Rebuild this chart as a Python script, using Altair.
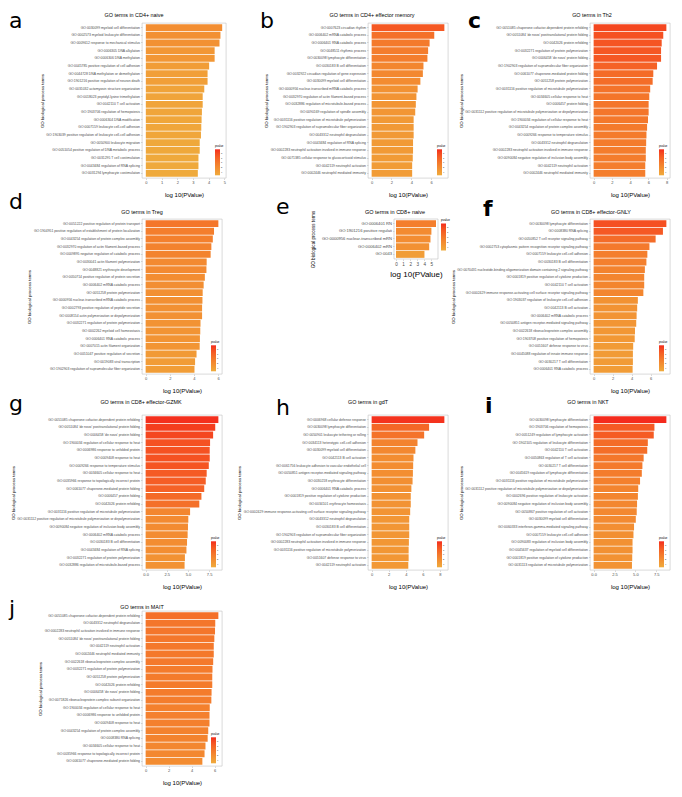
import altair as alt
import pandas as pd

# ---------------- data ----------------
a_terms = [
    "GO:0030099 myeloid cell differentiation",
    "GO:0002573 myeloid leukocyte differentiation",
    "GO:0009612 response to mechanical stimulus",
    "GO:0006305 DNA alkylation",
    "GO:0006306 DNA methylation",
    "GO:0045785 positive regulation of cell adhesion",
    "GO:0044728 DNA methylation or demethylation",
    "GO:1901216 positive regulation of neuron death",
    "GO:0031032 actomyosin structure organization",
    "GO:0018023 peptidyl-lysine trimethylation",
    "GO:0042110 T cell activation",
    "GO:1903706 regulation of hemopoiesis",
    "GO:0006304 DNA modification",
    "GO:0007159 leukocyte cell-cell adhesion",
    "GO:1903039 positive regulation of leukocyte cell-cell adhesion",
    "GO:0050900 leukocyte migration",
    "GO:0051054 positive regulation of DNA metabolic process",
    "GO:0031295 T cell costimulation",
    "GO:0043484 regulation of RNA splicing",
    "GO:0031294 lymphocyte costimulation",
]
a_vals = [4.86, 4.75, 4.69, 4.38, 4.38, 4.03, 3.93, 3.93, 3.72, 3.62,
          3.62, 3.57, 3.55, 3.53, 3.51, 3.43, 3.43, 3.35, 3.35, 3.31]

b_terms = [
    "GO:0007623 circadian rhythm",
    "GO:0006402 mRNA catabolic process",
    "GO:0006401 RNA catabolic process",
    "GO:0048511 rhythmic process",
    "GO:0030098 lymphocyte differentiation",
    "GO:0030183 B cell differentiation",
    "GO:0032922 circadian regulation of gene expression",
    "GO:0030099 myeloid cell differentiation",
    "GO:0000956 nuclear-transcribed mRNA catabolic process",
    "GO:0032970 regulation of actin filament-based process",
    "GO:0032886 regulation of microtubule-based process",
    "GO:0090169 regulation of spindle assembly",
    "GO:0031116 positive regulation of microtubule polymerization",
    "GO:1902903 regulation of supramolecular fiber organization",
    "GO:0043312 neutrophil degranulation",
    "GO:0043484 regulation of RNA splicing",
    "GO:0002283 neutrophil activation involved in immune response",
    "GO:0071385 cellular response to glucocorticoid stimulus",
    "GO:0042119 neutrophil activation",
    "GO:0002446 neutrophil mediated immunity",
]
b_vals = [7.34, 6.32, 5.85, 5.70, 5.63, 5.23, 5.17, 4.92, 4.64, 4.52,
          4.46, 4.40, 4.24, 4.24, 4.24, 4.18, 4.18, 4.15, 4.09, 4.09]

c_terms = [
    "GO:0051085 chaperone cofactor-dependent protein refolding",
    "GO:0051084 'de novo' posttranslational protein folding",
    "GO:0042026 protein refolding",
    "GO:0032271 regulation of protein polymerization",
    "GO:0006458 'de novo' protein folding",
    "GO:1902903 regulation of supramolecular fiber organization",
    "GO:0061077 chaperone-mediated protein folding",
    "GO:0051258 protein polymerization",
    "GO:0031116 positive regulation of microtubule polymerization",
    "GO:0034605 cellular response to heat",
    "GO:0006457 protein folding",
    "GO:0031112 positive regulation of microtubule polymerization or depolymerization",
    "GO:1900034 regulation of cellular response to heat",
    "GO:0043254 regulation of protein complex assembly",
    "GO:0009266 response to temperature stimulus",
    "GO:0043312 neutrophil degranulation",
    "GO:0002283 neutrophil activation involved in immune response",
    "GO:0090084 negative regulation of inclusion body assembly",
    "GO:0042119 neutrophil activation",
    "GO:0002446 neutrophil mediated immunity",
]
c_vals = [7.96, 7.62, 7.45, 7.38, 7.38, 6.94, 6.53, 6.46, 6.19, 6.09,
          6.02, 6.02, 5.95, 5.85, 5.78, 5.75, 5.71, 5.71, 5.65, 5.65]

d_terms = [
    "GO:0051222 positive regulation of protein transport",
    "GO:1904951 positive regulation of establishment of protein localization",
    "GO:0043254 regulation of protein complex assembly",
    "GO:0032970 regulation of actin filament-based process",
    "GO:0009895 negative regulation of catabolic process",
    "GO:0030041 actin filament polymerization",
    "GO:0048821 erythrocyte development",
    "GO:0050714 positive regulation of protein secretion",
    "GO:0006402 mRNA catabolic process",
    "GO:0051258 protein polymerization",
    "GO:0000956 nuclear-transcribed mRNA catabolic process",
    "GO:0002793 positive regulation of peptide secretion",
    "GO:0008154 actin polymerization or depolymerization",
    "GO:0032271 regulation of protein polymerization",
    "GO:0002262 myeloid cell homeostasis",
    "GO:0006401 RNA catabolic process",
    "GO:0007015 actin filament organization",
    "GO:0051047 positive regulation of secretion",
    "GO:0019083 viral transcription",
    "GO:1902903 regulation of supramolecular fiber organization",
]
d_vals = [6.03, 5.67, 5.57, 5.45, 5.39, 5.06, 5.04, 4.91, 4.81, 4.73,
          4.71, 4.68, 4.68, 4.55, 4.53, 4.50, 4.48, 4.22, 4.10, 4.05]

e_terms = [
    "GO:0006401 RN",
    "GO:1901216 positive regulati",
    "GO:0000956 nuclear-transcribed mRN",
    "GO:0006402 mRN",
    "GO:0043",
]
e_vals = [5.65, 5.00, 4.87, 4.69, 4.02]

f_terms = [
    "GO:0030098 lymphocyte differentiation",
    "GO:0008380 RNA splicing",
    "GO:0050852 T cell receptor signaling pathway",
    "GO:0002753 cytoplasmic pattern recognition receptor signaling pathway",
    "GO:0007159 leukocyte cell-cell adhesion",
    "GO:0030183 B cell differentiation",
    "GO:0070431 nucleotide-binding oligomerization domain containing 2 signaling pathway",
    "GO:0001819 positive regulation of cytokine production",
    "GO:0042110 T cell activation",
    "GO:0002429 immune response-activating cell surface receptor signaling pathway",
    "GO:1903037 regulation of leukocyte cell-cell adhesion",
    "GO:0042113 B cell activation",
    "GO:0006402 mRNA catabolic process",
    "GO:0050851 antigen receptor-mediated signaling pathway",
    "GO:0022618 ribonucleoprotein complex assembly",
    "GO:1903708 positive regulation of hemopoiesis",
    "GO:0051607 defense response to virus",
    "GO:0045088 regulation of innate immune response",
    "GO:0030217 T cell differentiation",
    "GO:0006401 RNA catabolic process",
]
f_vals = [7.65, 7.29, 6.52, 5.87, 5.65, 5.55, 5.39, 5.32, 5.32, 5.23,
          4.65, 4.58, 4.52, 4.48, 4.35, 4.32, 4.16, 4.13, 4.13, 4.10]

g_terms = [
    "GO:0051085 chaperone cofactor-dependent protein refolding",
    "GO:0051084 'de novo' posttranslational protein folding",
    "GO:0006458 'de novo' protein folding",
    "GO:1900034 regulation of cellular response to heat",
    "GO:0006986 response to unfolded protein",
    "GO:0009408 response to heat",
    "GO:0009266 response to temperature stimulus",
    "GO:0034605 cellular response to heat",
    "GO:0035966 response to topologically incorrect protein",
    "GO:0061077 chaperone-mediated protein folding",
    "GO:0006457 protein folding",
    "GO:0042026 protein refolding",
    "GO:0031116 positive regulation of microtubule polymerization",
    "GO:0031112 positive regulation of microtubule polymerization or depolymerization",
    "GO:0090084 negative regulation of inclusion body assembly",
    "GO:0006402 mRNA catabolic process",
    "GO:0030183 B cell differentiation",
    "GO:0043484 regulation of RNA splicing",
    "GO:0032271 regulation of protein polymerization",
    "GO:0032886 regulation of microtubule-based process",
]
g_vals = [8.59, 8.22, 7.97, 7.61, 7.57, 7.57, 7.46, 7.21, 7.10, 6.92,
          6.59, 6.34, 5.25, 5.04, 5.00, 4.96, 4.89, 4.82, 4.64, 4.60]

h_terms = [
    "GO:0006968 cellular defense response",
    "GO:0030098 lymphocyte differentiation",
    "GO:0050901 leukocyte tethering or rolling",
    "GO:0034113 heterotypic cell-cell adhesion",
    "GO:0030099 myeloid cell differentiation",
    "GO:0042113 B cell activation",
    "GO:0061756 leukocyte adhesion to vascular endothelial cell",
    "GO:0050851 antigen receptor-mediated signaling pathway",
    "GO:0030218 erythrocyte differentiation",
    "GO:0006401 RNA catabolic process",
    "GO:0001819 positive regulation of cytokine production",
    "GO:0034101 erythrocyte homeostasis",
    "GO:0002429 immune response-activating cell surface receptor signaling pathway",
    "GO:0043312 neutrophil degranulation",
    "GO:0030183 B cell differentiation",
    "GO:1902903 regulation of supramolecular fiber organization",
    "GO:0002283 neutrophil activation involved in immune response",
    "GO:0031116 positive regulation of microtubule polymerization",
    "GO:0051607 defense response to virus",
    "GO:0042119 neutrophil activation",
]
h_vals = [8.53, 6.74, 6.16, 5.38, 5.13, 4.91, 4.87, 4.84, 4.80, 4.66,
          4.59, 4.59, 4.52, 4.41, 4.41, 4.41, 4.37, 4.34, 4.34, 4.30]

i_terms = [
    "GO:0030098 lymphocyte differentiation",
    "GO:1903706 regulation of hemopoiesis",
    "GO:0051249 regulation of lymphocyte activation",
    "GO:1902105 regulation of leukocyte differentiation",
    "GO:0042110 T cell activation",
    "GO:0050863 regulation of T cell activation",
    "GO:0030217 T cell differentiation",
    "GO:0045619 regulation of lymphocyte differentiation",
    "GO:0031116 positive regulation of microtubule polymerization",
    "GO:0031112 positive regulation of microtubule polymerization or depolymerization",
    "GO:0002696 positive regulation of leukocyte activation",
    "GO:0090084 negative regulation of inclusion body assembly",
    "GO:0050867 positive regulation of cell activation",
    "GO:0030099 myeloid cell differentiation",
    "GO:0060333 interferon-gamma-mediated signaling pathway",
    "GO:0007159 leukocyte cell-cell adhesion",
    "GO:0090083 regulation of inclusion body assembly",
    "GO:0045637 regulation of myeloid cell differentiation",
    "GO:0001819 positive regulation of cytokine production",
    "GO:0031113 regulation of microtubule polymerization",
]
i_vals = [8.71, 7.28, 7.20, 6.49, 6.42, 5.99, 5.84, 5.77, 5.56, 5.34,
          5.30, 5.20, 5.16, 5.05, 4.84, 4.77, 4.66, 4.66, 4.62, 4.59]

j_terms = [
    "GO:0051085 chaperone cofactor-dependent protein refolding",
    "GO:0043312 neutrophil degranulation",
    "GO:0002283 neutrophil activation involved in immune response",
    "GO:0051084 'de novo' posttranslational protein folding",
    "GO:0042119 neutrophil activation",
    "GO:0002446 neutrophil mediated immunity",
    "GO:0022618 ribonucleoprotein complex assembly",
    "GO:0032271 regulation of protein polymerization",
    "GO:0051258 protein polymerization",
    "GO:0042026 protein refolding",
    "GO:0006458 'de novo' protein folding",
    "GO:0071826 ribonucleoprotein complex subunit organization",
    "GO:1900034 regulation of cellular response to heat",
    "GO:0006986 response to unfolded protein",
    "GO:0009408 response to heat",
    "GO:0043254 regulation of protein complex assembly",
    "GO:0008380 RNA splicing",
    "GO:0034605 cellular response to heat",
    "GO:0035966 response to topologically incorrect protein",
    "GO:0061077 chaperone-mediated protein folding",
]
j_vals = [6.32, 6.05, 6.03, 5.97, 5.92, 5.92, 5.87, 5.81, 5.79, 5.79,
          5.73, 5.71, 5.57, 5.55, 5.55, 5.44, 5.39, 5.20, 5.12, 4.93]

panel_letters = ["a", "b", "c", "d", "e", "f", "g", "h", "i", "j"]
panel_titles = [
    "GO terms in CD4+ naive", "GO terms in CD4+ effector memory", "GO terms in Th2",
    "GO terms in Treg", "GO terms in CD8+ naive", "GO terms in CD8+ effector-GNLY",
    "GO terms in CD8+ effector-GZMK", "GO terms in gdT", "GO terms in NKT",
    "GO terms in MAIT",
]
x_ticks = [[0, 1, 2, 3, 4, 5], [0, 2, 4, 6], [0, 2, 4, 6, 8],
           [0, 2, 4, 6], [0, 1, 2, 3, 4, 5], [0, 2, 4, 6],
           [0, 2.5, 5, 7.5], [0, 2, 4, 6, 8], [0, 2.5, 5, 7.5],
           [0, 2, 4, 6]]
all_terms = [a_terms, b_terms, c_terms, d_terms, e_terms, f_terms, g_terms, h_terms, i_terms, j_terms]
all_vals = [a_vals, b_vals, c_vals, d_vals, e_vals, f_vals, g_vals, h_vals, i_vals, j_vals]

# ---------------- styling / layout ----------------
FONT = "Liberation Sans"
LOW, HIGH = "#EFAA3C", "#F42B1D"
H = 155
LETTER_FS = 22
# per panel: width, title x, title baseline y, letter x, letter baseline y, bold letter, tick format
layout = [
    dict(w=84, tx=-8, ty=-6, lx=-133, ly=5, bold=False, fmt="d"),
    dict(w=80, tx=4, ty=-6, lx=-108, ly=5, bold=False, fmt="d"),
    dict(w=80, tx=2, ty=-6, lx=-122, ly=5, bold=True, fmt="d"),
    dict(w=80, tx=0, ty=-5, lx=-133, ly=-10, bold=False, fmt="d"),
    dict(w=70, tx=27, ty=-5, lx=-92, ly=-5, bold=False, fmt="d", small=True),
    dict(w=80, tx=1, ty=-5, lx=-107, ly=-3, bold=True, fmt="d"),
    dict(w=80, tx=-1, ty=-11, lx=-133, ly=-4, bold=False, fmt=".1f"),
    dict(w=80, tx=0, ty=-11, lx=-92, ly=0, bold=False, fmt="d"),
    dict(w=80, tx=-2, ty=-11, lx=-105, ly=-2, bold=True, fmt=".1f"),
    dict(w=80, tx=0, ty=-2, lx=-133, ly=5, bold=False, fmt="d"),
]


def make_panel(k):
    terms, vals, L = all_terms[k], all_vals[k], layout[k]
    small = L.get("small", False)
    df = pd.DataFrame({"term": terms, "logp": vals})
    vmax, vmin = max(vals), min(vals)
    if small:
        xscale = alt.Scale(domain=[-0.05 * vmax, 1.05 * vmax], nice=False, zero=False, range=[26, 70])
        lab_fs, tick_fs, xt_fs, yt_fs, t_fs = 4.1, 4.6, 8, 4.6, 5.5
        yoff, ytp, xtp = -26, 6, 4
        height = 40
        leg = alt.Legend(title="pvalue", orient="right", direction="vertical", offset=3,
                         padding=0, gradientLength=27, gradientThickness=5,
                         gradientStrokeWidth=0, titleFontSize=3, titleFontWeight="normal",
                         labelFontSize=2.4, labelOffset=1, titlePadding=1.5, tickCount=4)
    else:
        xscale = alt.Scale(domain=[-0.05 * vmax, 1.05 * vmax], nice=False, zero=False)
        lab_fs, tick_fs, xt_fs, yt_fs, t_fs = 3.4, 4, 6, 4.3, 5.4
        yoff, ytp, xtp = 0, 1.5, 7
        height = H
        leg = alt.Legend(title="pvalue", orient="bottom-right", direction="vertical", offset=2,
                         padding=0, gradientLength=26, gradientThickness=5,
                         gradientStrokeWidth=0, titleFontSize=2.8, titleFontWeight="normal",
                         labelFontSize=2.2, labelOffset=1, titlePadding=1.5, tickCount=4)

    bars = alt.Chart(df).mark_bar().encode(
        x=alt.X("logp:Q", scale=xscale,
                axis=alt.Axis(values=x_ticks[k], format=L["fmt"], title="log 10(PValue)",
                              titleFontSize=xt_fs, titleFontWeight="normal", titleColor="black",
                              titlePadding=xtp, labelFontSize=tick_fs, labelColor="#4d4d4d",
                              labelPadding=1, tickSize=1.5, tickColor="#b3b3b3", tickWidth=0.5,
                              domain=False, grid=False, labelFlush=False)),
        y=alt.Y("term:N", sort=terms,
                scale=alt.Scale(paddingInner=0.1, paddingOuter=0.15),
                axis=alt.Axis(title="GO biological process terms", titleFontSize=yt_fs,
                              titleFontWeight="normal", titleColor="black", titlePadding=ytp,
                              labelFontSize=lab_fs, labelColor="#4d4d4d", labelPadding=1,
                              labelLimit=400, tickSize=1.5, tickColor="#b3b3b3", tickWidth=0.5,
                              domain=False, offset=yoff)),
        color=alt.Color("logp:Q",
                        scale=alt.Scale(domain=[vmin, vmax], range=[LOW, HIGH], interpolate="lab"),
                        legend=leg),
    )
    title_txt = alt.Chart(pd.DataFrame({"t": [panel_titles[k]]})).mark_text(
        align="center", baseline="alphabetic", fontSize=t_fs, font=FONT, color="black"
    ).encode(text="t:N", x=alt.value(L["tx"]), y=alt.value(L["ty"]))
    letter_txt = alt.Chart(pd.DataFrame({"t": [panel_letters[k]]})).mark_text(
        align="left", baseline="alphabetic", fontSize=LETTER_FS, font="DejaVu Sans",
        fontWeight="bold" if L["bold"] else "normal", color="black"
    ).encode(text="t:N", x=alt.value(L["lx"]), y=alt.value(L["ly"]))
    layers = [bars, title_txt, letter_txt]
    if small:
        frame = alt.Chart(pd.DataFrame({"f": [0]})).mark_rect(
            filled=False, stroke="#bfbfbf", strokeWidth=0.6
        ).encode(x=alt.value(26), x2=alt.value(70), y=alt.value(0), y2=alt.value(40))
        layers.append(frame)
        return alt.layer(*layers).properties(width=L["w"], height=height,
                                              view=alt.ViewBackground(stroke="transparent"))
    return alt.layer(*layers).properties(width=L["w"], height=height)


panels = [make_panel(k) for k in range(10)]

chart = alt.concat(
    *panels, columns=3, spacing={"row": 41, "column": 142}, bounds="flush"
).properties(
    padding={"left": 0, "top": 1, "right": 2, "bottom": 0}
).configure(
    font=FONT
).configure_view(
    stroke="#bfbfbf", strokeWidth=0.6
)

chart.save("out.html", embed_options={"renderer": "svg", "actions": False})
